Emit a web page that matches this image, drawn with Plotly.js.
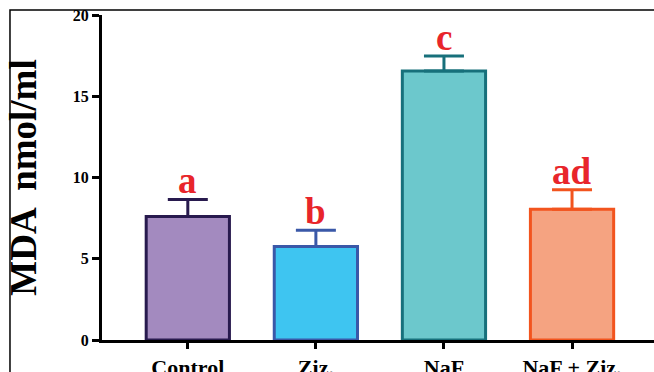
<!DOCTYPE html>
<html>
<head>
<meta charset="utf-8">
<script src="https://cdn.plot.ly/plotly-3.0.1.min.js"></script>
<style>
html,body{margin:0;padding:0;background:#fff;}
#chart{width:654px;height:372px;}
</style>
</head>
<body>
<div id="chart"></div>
<script>
const categories = ["Control", "Ziz.", "NaF", "NaF + Ziz."];
const means = [7.6, 5.75, 16.55, 8.05];
const errors = [1.05, 1.0, 0.93, 1.2];
const letters = ["a", "b", "c", "ad"];
const yTicks = [0, 5, 10, 15, 20];

const fills = ["#a38abf", "#3ec5f1", "#6cc8cc", "#f5a381"];
const edges = ["#281a4e", "#3a58a8", "#17707b", "#f2541e"];

const traces = categories.map((c, i) => ({
  type: "bar",
  x: [c],
  y: [means[i]],
  width: 0.65,
  marker: {color: fills[i], line: {color: edges[i], width: 3}},
  error_y: {
    type: "data", symmetric: false,
    array: [errors[i]], arrayminus: [0],
    color: edges[i], thickness: 3, width: 20
  },
  hoverinfo: "none",
  showlegend: false
}));

const annotations = categories.map((c, i) => ({
  x: c, y: means[i] + errors[i], xref: "x", yref: "y",
  text: letters[i], showarrow: false,
  yanchor: "bottom", yshift: -4,
  font: {family: "Liberation Serif, Times New Roman, serif", size: 37, color: "#e8252b", weight: "bold"}
}));

const layout = {
  width: 654, height: 372,
  margin: {l: 102, r: 0, t: 15, b: 32},
  paper_bgcolor: "#fff", plot_bgcolor: "#fff",
  barmode: "overlay",
  font: {family: "Liberation Serif, Times New Roman, serif", color: "#000"},
  xaxis: {
    type: "category",
    categoryorder: "array", categoryarray: categories,
    range: [-0.67, 3.64],
    showline: true, linecolor: "#000", linewidth: 3,
    ticks: "outside", ticklen: 6, tickwidth: 3, tickcolor: "#000",
    tickfont: {size: 22, weight: "bold", family: "Liberation Serif, Times New Roman, serif"},
    showgrid: false, zeroline: false, fixedrange: true
  },
  yaxis: {
    range: [0, 20],
    tickvals: yTicks, ticktext: yTicks.map(String),
    showline: true, linecolor: "#000", linewidth: 3,
    ticks: "outside", ticklen: 7, tickwidth: 3, tickcolor: "#000",
    tickfont: {size: 16, weight: "bold", family: "Liberation Serif, Times New Roman, serif"},
    showgrid: false, zeroline: false, fixedrange: true,
    title: {text: "MDA  nmol/ml", standoff: 25,
      font: {size: 37, weight: "bold", family: "Liberation Serif, Times New Roman, serif"}}
  },
  shapes: [{
    type: "path", xref: "paper", yref: "paper",
    path: "M -0.1667 -0.2 L -0.1667 1.0154 L 1.2 1.0154",
    line: {color: "#000", width: 1.5}
  }],
  annotations: annotations
};

Plotly.newPlot("chart", traces, layout, {displayModeBar: false, staticPlot: true});
</script>
</body>
</html>
